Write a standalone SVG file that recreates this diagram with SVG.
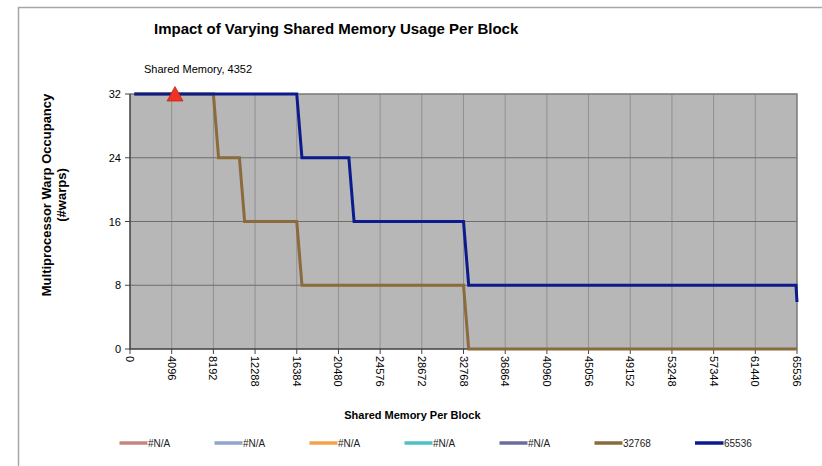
<svg xmlns="http://www.w3.org/2000/svg" width="822" height="466" viewBox="0 0 822 466">
<style>
text{font-family:"Liberation Sans",Arial,sans-serif;fill:#000}
.t{font-size:15px;font-weight:bold}
.ax{font-size:11px;font-weight:bold}
.lbl{font-size:11px}
.lg{font-size:10px;fill:#222}
.vg{stroke:#919191;stroke-width:1}
.hg{stroke:#6e6e6e;stroke-width:1}
.tk{stroke:#444;stroke-width:1}
.s{fill:none;stroke-width:3;stroke-linejoin:miter}
.ll{stroke-width:3.5}
</style>
<rect width="822" height="466" fill="#fff"/>
<g id="frame"><path d="M18.5 466V7.5H822" fill="none" stroke="#a6a6a6" stroke-width="1.5"/></g>
<text id="title" class="t" x="154" y="34">Impact of Varying Shared Memory Usage Per Block</text>
<g id="plot">
<rect x="130" y="94" width="667" height="255" fill="#b7b7b7"/>
<g id="vgrid">
<line class="vg" x1="171.69" y1="94" x2="171.69" y2="349"/>
<line class="vg" x1="213.38" y1="94" x2="213.38" y2="349"/>
<line class="vg" x1="255.06" y1="94" x2="255.06" y2="349"/>
<line class="vg" x1="296.75" y1="94" x2="296.75" y2="349"/>
<line class="vg" x1="338.44" y1="94" x2="338.44" y2="349"/>
<line class="vg" x1="380.13" y1="94" x2="380.13" y2="349"/>
<line class="vg" x1="421.81" y1="94" x2="421.81" y2="349"/>
<line class="vg" x1="463.5" y1="94" x2="463.5" y2="349"/>
<line class="vg" x1="505.19" y1="94" x2="505.19" y2="349"/>
<line class="vg" x1="546.88" y1="94" x2="546.88" y2="349"/>
<line class="vg" x1="588.56" y1="94" x2="588.56" y2="349"/>
<line class="vg" x1="630.25" y1="94" x2="630.25" y2="349"/>
<line class="vg" x1="671.94" y1="94" x2="671.94" y2="349"/>
<line class="vg" x1="713.63" y1="94" x2="713.63" y2="349"/>
<line class="vg" x1="755.31" y1="94" x2="755.31" y2="349"/>
</g>
<g id="hgrid">
<line class="hg" x1="130" y1="157.75" x2="797" y2="157.75"/>
<line class="hg" x1="130" y1="221.5" x2="797" y2="221.5"/>
<line class="hg" x1="130" y1="285.25" x2="797" y2="285.25"/>
</g>
<path d="M130 94H797V349" fill="none" stroke="#7a7a7a" stroke-width="1.5"/>
</g>
<g id="axes">
<path d="M130 94V349H797" fill="none" stroke="#404040" stroke-width="1.5"/>
<path class="tk" d="M125 94H130M125 157.75H130M125 221.5H130M125 285.25H130M125 349H130"/>
<path class="tk" d="M130 349V354M171.69 349V354M213.38 349V354M255.06 349V354M296.75 349V354M338.44 349V354M380.13 349V354M421.81 349V354M463.5 349V354M505.19 349V354M546.88 349V354M588.56 349V354M630.25 349V354M671.94 349V354M713.63 349V354M755.31 349V354M797 349V354"/>
<g id="ylabels" class="lbl" text-anchor="end">
<text class="lbl" x="121" y="98">32</text>
<text class="lbl" x="121" y="161.75">24</text>
<text class="lbl" x="121" y="225.5">16</text>
<text class="lbl" x="121" y="289.25">8</text>
<text class="lbl" x="121" y="353">0</text>
</g>
<g id="xlabels">
<text class="lbl" transform="translate(126,356) rotate(90)">0</text>
<text class="lbl" transform="translate(167.69,356) rotate(90)">4096</text>
<text class="lbl" transform="translate(209.38,356) rotate(90)">8192</text>
<text class="lbl" transform="translate(251.06,356) rotate(90)">12288</text>
<text class="lbl" transform="translate(292.75,356) rotate(90)">16384</text>
<text class="lbl" transform="translate(334.44,356) rotate(90)">20480</text>
<text class="lbl" transform="translate(376.13,356) rotate(90)">24576</text>
<text class="lbl" transform="translate(417.81,356) rotate(90)">28672</text>
<text class="lbl" transform="translate(459.5,356) rotate(90)">32768</text>
<text class="lbl" transform="translate(501.19,356) rotate(90)">36864</text>
<text class="lbl" transform="translate(542.88,356) rotate(90)">40960</text>
<text class="lbl" transform="translate(584.56,356) rotate(90)">45056</text>
<text class="lbl" transform="translate(626.25,356) rotate(90)">49152</text>
<text class="lbl" transform="translate(667.94,356) rotate(90)">53248</text>
<text class="lbl" transform="translate(709.63,356) rotate(90)">57344</text>
<text class="lbl" transform="translate(751.31,356) rotate(90)">61440</text>
<text class="lbl" transform="translate(793,356) rotate(90)">65536</text>
</g>
<text id="xtitle" class="ax" x="412.4" y="419" text-anchor="middle">Shared Memory Per Block</text>
<g id="ytitle" class="ax" text-anchor="middle">
<text class="ax" transform="translate(50.5,195) rotate(-90)" style="font-size:13px">Multiprocessor Warp Occupancy</text>
<text class="ax" transform="translate(65.5,195) rotate(-90)" style="font-size:13px">(#warps)</text>
</g>
</g>
<g id="series">
<path id="s32768" class="s" stroke="#8b6a3b" d="M134.3 94H213.38L218.59 157.75H239.43L244.64 221.5H296.75L301.96 285.25H463.5L468.71 349H797"/>
<path id="s65536" class="s" stroke="#0b1a8c" d="M134.3 94H296.75L301.96 157.75H348.86L354.07 221.5H463.5L468.71 285.25H796L797 302"/>
</g>
<g id="marker">
<polygon points="175,86.5 167,101 183,101" fill="#ee3322" stroke="#c02a1a" stroke-width="0.8"/>
<text class="lbl" x="144" y="73">Shared Memory, 4352</text>
</g>
<g id="legend">
<line class="ll" x1="119.5" y1="443" x2="147.5" y2="443" stroke="#c58680"/><text class="lg" x="148" y="447">#N/A</text>
<line class="ll" x1="214.5" y1="443" x2="242.5" y2="443" stroke="#8ea5cc"/><text class="lg" x="243" y="447">#N/A</text>
<line class="ll" x1="309.5" y1="443" x2="337.5" y2="443" stroke="#f7a04a"/><text class="lg" x="338" y="447">#N/A</text>
<line class="ll" x1="404.5" y1="443" x2="432.5" y2="443" stroke="#4cc2c4"/><text class="lg" x="433" y="447">#N/A</text>
<line class="ll" x1="499.5" y1="443" x2="527.5" y2="443" stroke="#6c6c9c"/><text class="lg" x="528" y="447">#N/A</text>
<line class="ll" x1="594.5" y1="443" x2="622.5" y2="443" stroke="#8b6a3b"/><text class="lg" x="623" y="447">32768</text>
<line class="ll" x1="695" y1="443" x2="723.5" y2="443" stroke="#0b1a8c"/><text class="lg" x="724" y="447">65536</text>
</g>
</svg>
